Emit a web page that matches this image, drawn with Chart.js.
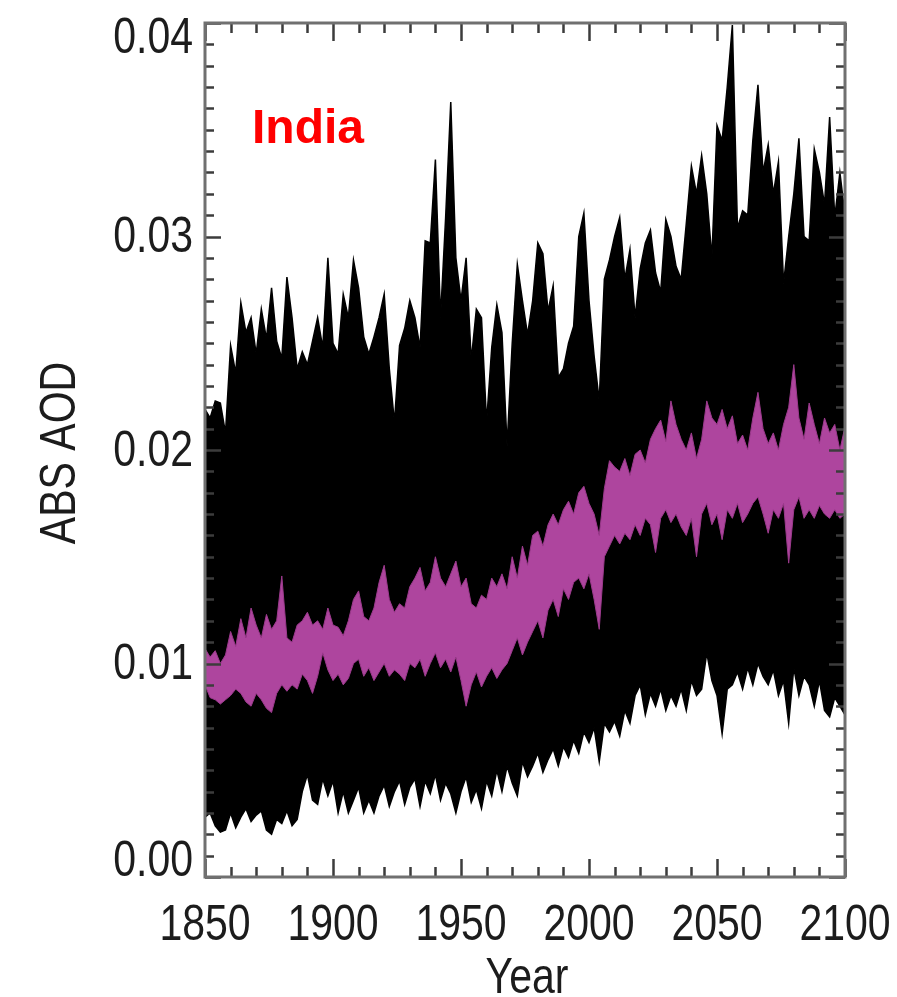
<!DOCTYPE html>
<html>
<head>
<meta charset="utf-8">
<title>ABS AOD - India</title>
<script src="https://cdn.jsdelivr.net/npm/chart.js@4.4.1/dist/chart.umd.min.js"></script>
<style>
  html, body { margin: 0; padding: 0; background: #fff; }
  #wrap { width: 897px; height: 997px; }
</style>
</head>
<body>
<div id="wrap"><canvas id="aodChart" width="897" height="997"></canvas></div>
<script>
// years on the x axis, every second year
var firstYear = 1850, lastYear = 2100, yearStep = 2
var years = []
for (var yr = firstYear; yr <= lastYear; yr += yearStep) years.push(yr)

// ensemble spread (black band)
var ensembleMax = [
  0.0219, 0.0215, 0.0223, 0.0222, 0.0208, 0.0249, 0.0236, 0.0269, 0.0255, 0.0262,
  0.0245, 0.0266, 0.0252, 0.0276, 0.0251, 0.0243, 0.0281, 0.0262, 0.0238, 0.0246,
  0.0240, 0.0251, 0.0262, 0.0248, 0.0290, 0.0250, 0.0245, 0.0273, 0.0262, 0.0289,
  0.0276, 0.0253, 0.0245, 0.0253, 0.0262, 0.0273, 0.0238, 0.0213, 0.0249, 0.0257,
  0.0270, 0.0262, 0.0248, 0.0298, 0.0297, 0.0336, 0.0262, 0.0309, 0.0363, 0.0290,
  0.0270, 0.0290, 0.0242, 0.0266, 0.0262, 0.0213, 0.0248, 0.0268, 0.0255, 0.0202,
  0.0250, 0.0287, 0.0270, 0.0254, 0.0270, 0.0297, 0.0292, 0.0265, 0.0277, 0.0234,
  0.0238, 0.0250, 0.0258, 0.0300, 0.0311, 0.0270, 0.0244, 0.0223, 0.0280, 0.0289,
  0.0300, 0.0309, 0.0280, 0.0294, 0.0262, 0.0285, 0.0297, 0.0303, 0.0283, 0.0274,
  0.0308, 0.0300, 0.0286, 0.0280, 0.0306, 0.0333, 0.0320, 0.0338, 0.0320, 0.0290,
  0.0352, 0.0345, 0.0370, 0.0399, 0.0304, 0.0312, 0.0310, 0.0345, 0.0371, 0.0330,
  0.0343, 0.0320, 0.0335, 0.0278, 0.0300, 0.0320, 0.0346, 0.0300, 0.0298, 0.0341,
  0.0330, 0.0315, 0.0356, 0.0309, 0.0330, 0.0310
]
var ensembleMin = [
  0.0028, 0.0030, 0.0024, 0.0021, 0.0022, 0.0030, 0.0023, 0.0028, 0.0032, 0.0026,
  0.0029, 0.0031, 0.0022, 0.0020, 0.0027, 0.0025, 0.0031, 0.0024, 0.0027, 0.0040,
  0.0048, 0.0036, 0.0034, 0.0046, 0.0038, 0.0045, 0.0030, 0.0040, 0.0030, 0.0036,
  0.0042, 0.0030, 0.0036, 0.0030, 0.0038, 0.0043, 0.0033, 0.0040, 0.0045, 0.0034,
  0.0042, 0.0046, 0.0033, 0.0045, 0.0039, 0.0048, 0.0036, 0.0044, 0.0039, 0.0030,
  0.0040, 0.0047, 0.0035, 0.0041, 0.0032, 0.0045, 0.0038, 0.0050, 0.0040, 0.0052,
  0.0044, 0.0038, 0.0054, 0.0047, 0.0052, 0.0058, 0.0049, 0.0055, 0.0060, 0.0052,
  0.0061, 0.0056, 0.0064, 0.0058, 0.0068, 0.0063, 0.0070, 0.0054, 0.0072, 0.0068,
  0.0073, 0.0066, 0.0078, 0.0072, 0.0085, 0.0090, 0.0076, 0.0086, 0.0080, 0.0088,
  0.0078, 0.0085, 0.0080, 0.0088, 0.0078, 0.0092, 0.0085, 0.0088, 0.0105, 0.0092,
  0.0085, 0.0067, 0.0088, 0.0090, 0.0096, 0.0088, 0.0098, 0.0090, 0.0100, 0.0094,
  0.0090, 0.0097, 0.0085, 0.0092, 0.0072, 0.0098, 0.0085, 0.0094, 0.0090, 0.0080,
  0.0092, 0.0078, 0.0075, 0.0084, 0.0080, 0.0076
]

// ensemble mean band (magenta)
var meanHigh = [
  0.0107, 0.0103, 0.0106, 0.0100, 0.0104, 0.0115, 0.0108, 0.0121, 0.0112, 0.0126,
  0.0118, 0.0112, 0.0123, 0.0116, 0.0120, 0.0141, 0.0112, 0.0110, 0.0118, 0.0120,
  0.0124, 0.0118, 0.0120, 0.0116, 0.0126, 0.0118, 0.0117, 0.0113, 0.0120, 0.0130,
  0.0134, 0.0122, 0.0120, 0.0126, 0.0138, 0.0146, 0.0130, 0.0124, 0.0128, 0.0126,
  0.0136, 0.0140, 0.0145, 0.0134, 0.0138, 0.0150, 0.0140, 0.0136, 0.0142, 0.0148,
  0.0136, 0.0140, 0.0128, 0.0126, 0.0132, 0.0130, 0.0140, 0.0136, 0.0142, 0.0135,
  0.0150, 0.0140, 0.0155, 0.0146, 0.0160, 0.0162, 0.0155, 0.0165, 0.0170, 0.0165,
  0.0172, 0.0176, 0.0170, 0.0180, 0.0183, 0.0175, 0.0170, 0.0160, 0.0182, 0.0195,
  0.0192, 0.0190, 0.0196, 0.0188, 0.0198, 0.0200, 0.0194, 0.0205, 0.0210, 0.0214,
  0.0204, 0.0223, 0.0212, 0.0205, 0.0200, 0.0208, 0.0196, 0.0205, 0.0223, 0.0215,
  0.0212, 0.0219, 0.0210, 0.0216, 0.0203, 0.0207, 0.0200, 0.0215, 0.0227, 0.0210,
  0.0203, 0.0208, 0.0200, 0.0212, 0.0220, 0.0240, 0.0215, 0.0205, 0.0222, 0.0212,
  0.0203, 0.0215, 0.0208, 0.0212, 0.0200, 0.0211
]
var meanLow = [
  0.0090, 0.0084, 0.0083, 0.0081, 0.0083, 0.0085, 0.0088, 0.0086, 0.0082, 0.0080,
  0.0086, 0.0083, 0.0079, 0.0077, 0.0086, 0.0090, 0.0087, 0.0090, 0.0088, 0.0095,
  0.0092, 0.0086, 0.0094, 0.0105, 0.0097, 0.0092, 0.0095, 0.0090, 0.0093, 0.0100,
  0.0102, 0.0094, 0.0098, 0.0092, 0.0096, 0.0100, 0.0094, 0.0097, 0.0095, 0.0092,
  0.0100, 0.0098, 0.0102, 0.0094, 0.0100, 0.0105, 0.0098, 0.0102, 0.0096, 0.0103,
  0.0092, 0.0080, 0.0090, 0.0096, 0.0089, 0.0094, 0.0098, 0.0093, 0.0097, 0.0100,
  0.0106, 0.0112, 0.0104, 0.0110, 0.0115, 0.0120, 0.0112, 0.0125, 0.0130, 0.0122,
  0.0135, 0.0130, 0.0138, 0.0140, 0.0135, 0.0142, 0.0130, 0.0116, 0.0150, 0.0155,
  0.0160, 0.0156, 0.0161, 0.0158, 0.0165, 0.0160, 0.0168, 0.0165, 0.0152, 0.0168,
  0.0172, 0.0166, 0.0170, 0.0164, 0.0160, 0.0168, 0.0150, 0.0170, 0.0175, 0.0165,
  0.0170, 0.0158, 0.0172, 0.0168, 0.0175, 0.0166, 0.0170, 0.0175, 0.0178, 0.0170,
  0.0161, 0.0172, 0.0168, 0.0175, 0.0147, 0.0172, 0.0178, 0.0168, 0.0172, 0.0168,
  0.0174, 0.0170, 0.0168, 0.0172, 0.0168, 0.0170
]

var xTickValues = [1850, 1900, 1950, 2000, 2050, 2100]
var yTickValues = [0, 0.01, 0.02, 0.03, 0.04]
var yTickLabels = ['0.00', '0.01', '0.02', '0.03', '0.04']
var xTitle = 'Year'
var yTitle = 'ABS AOD'
var regionName = 'India'

var axisFont = "50px 'Liberation Sans', Arial, sans-serif"
var squeeze = 0.82   // axis text is set narrow
var textColor = '#1c1c1c'

function pairs(vals) {
  return vals.map(function (v, i) { return { x: years[i], y: v } })
}

// narrow text helper: draws at (x, y) after an optional rotation
function narrowText(c, str, x, y, align, angle) {
  c.save()
  c.translate(x, y)
  if (angle) c.rotate(angle)
  c.scale(squeeze, 1)
  c.textAlign = align
  c.fillText(str, 0, 0)
  c.restore()
}

// box, inward tick marks, axis labels and the region name
var framePlugin = {
  id: 'frame',
  afterDatasetsDraw: function (chart) {
    var c = chart.ctx, a = chart.chartArea
    var xs = chart.scales.x, ys = chart.scales.y
    c.save()
    c.strokeStyle = '#3c3c3c'
    c.lineWidth = 2.5
    c.beginPath()
    for (var y = firstYear; y <= lastYear; y += 10) {
      var px = Math.round(xs.getPixelForValue(y)) + 0.5
      var len = y % 50 === 0 ? 18 : 10
      c.moveTo(px, a.bottom); c.lineTo(px, a.bottom - len)
      c.moveTo(px, a.top); c.lineTo(px, a.top + len)
    }
    for (var k = 0; k <= 40; k++) {
      var py = Math.round(ys.getPixelForValue(k / 1000)) + 0.5
      var ylen = k % 10 === 0 ? 16 : 9
      c.moveTo(a.left, py); c.lineTo(a.left + ylen, py)
      c.moveTo(a.right, py); c.lineTo(a.right - ylen, py)
    }
    c.stroke()

    c.strokeStyle = '#707070'
    c.lineWidth = 3
    c.strokeRect(a.left, a.top, a.right - a.left, a.bottom - a.top)

    c.font = axisFont
    c.fillStyle = textColor
    c.textBaseline = 'middle'
    yTickValues.forEach(function (v, i) {
      var ty = Math.min(Math.max(ys.getPixelForValue(v), a.top + 14), a.bottom - 17)
      narrowText(c, yTickLabels[i], a.left - 12, ty + 2, 'right')
    })
    c.textBaseline = 'alphabetic'
    xTickValues.forEach(function (v) {
      narrowText(c, String(v), xs.getPixelForValue(v), a.bottom + 63, 'center')
    })
    narrowText(c, xTitle, (a.left + a.right) / 2 + 2, a.bottom + 116, 'center')
    narrowText(c, yTitle, 75, (a.top + a.bottom) / 2 + 3, 'center', -Math.PI / 2)

    c.font = "bold 48px 'Liberation Sans', Arial, sans-serif"
    c.fillStyle = '#ff0000'
    c.textAlign = 'left'
    c.fillText(regionName, 252, 143)
    c.restore()
  }
}

var ctx = document.getElementById('aodChart').getContext('2d')
var chart = new Chart(ctx, {
  type: 'line',
  data: {
    datasets: [
      { label: 'min', data: pairs(ensembleMin), borderColor: '#000', borderWidth: 1.5, pointRadius: 0, fill: false, order: 2 },
      { label: 'max', data: pairs(ensembleMax), borderColor: '#000', borderWidth: 1.5, pointRadius: 0, fill: '-1', backgroundColor: '#000', order: 2 },
      { label: 'mean low', data: pairs(meanLow), borderColor: '#9c3a8d', borderWidth: 1, pointRadius: 0, fill: false, order: 1 },
      { label: 'mean high', data: pairs(meanHigh), borderColor: '#9c3a8d', borderWidth: 1, pointRadius: 0, fill: '-1', backgroundColor: '#ae459e', order: 1 }
    ]
  },
  options: {
    responsive: false,
    animation: false,
    devicePixelRatio: 1,
    layout: { padding: { top: 23, right: 52, bottom: 0, left: 0 } },
    elements: { line: { tension: 0 } },
    plugins: { legend: { display: false }, tooltip: { enabled: false } },
    scales: {
      x: {
        type: 'linear', min: firstYear, max: lastYear,
        grid: { display: false }, border: { display: false },
        ticks: { display: false },
        afterFit: function (s) { s.height = 120 }
      },
      y: {
        min: 0, max: 0.04,
        grid: { display: false }, border: { display: false },
        ticks: { display: false },
        afterFit: function (s) { s.width = 205 }
      }
    }
  },
  plugins: [framePlugin]
})
</script>
</body>
</html>
